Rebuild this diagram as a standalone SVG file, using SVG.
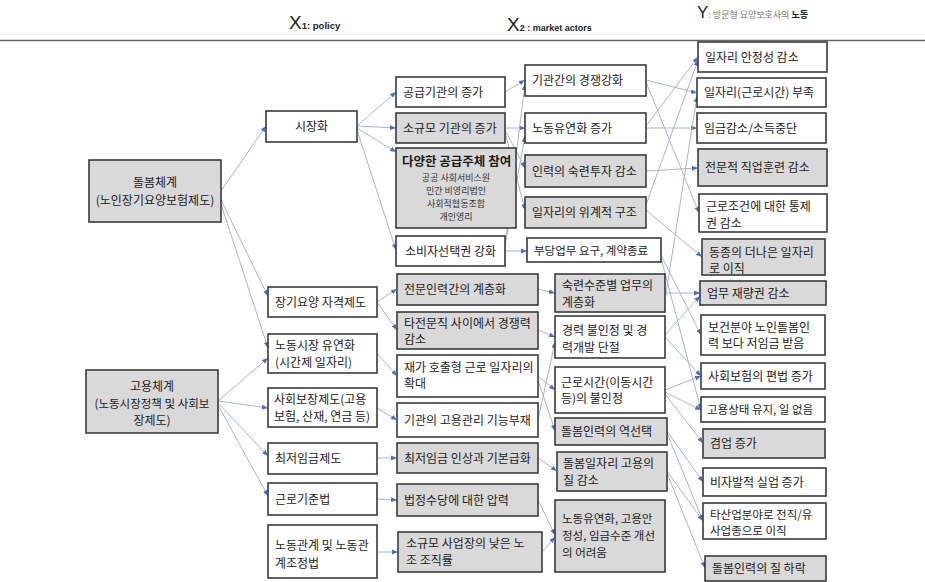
<svg xmlns="http://www.w3.org/2000/svg" width="925" height="582" viewBox="0 0 925 582">
<defs>
<marker id="ah" viewBox="0 0 10 10" refX="10" refY="5" markerWidth="6" markerHeight="6" markerUnits="userSpaceOnUse" orient="auto">
<path d="M0,1 L10,5 L0,9 z" fill="#4a6fc2"/>
</marker>
</defs>
<style>
.b{stroke:#3a3a3a;stroke-width:1.6}
.w{fill:#ffffff}
.g{fill:#d9d9d9}
.t{font-family:"Noto Sans CJK KR","Noto Sans",sans-serif;font-size:12px;fill:#1c1c1c}
.s{font-size:11.5px}
.sub{font-size:9px;fill:#333}
.ttl{font-size:12.5px;font-weight:bold}
.c{text-anchor:middle}
.e{stroke:#aab3d3;stroke-width:1;fill:none;marker-end:url(#ah)}
.h{font-family:"Liberation Sans",Arial,sans-serif;fill:#222}
</style>
<rect x="0" y="0" width="925" height="582" fill="#ffffff"/>
<g id="header">
<line x1="0" y1="34" x2="640" y2="34" stroke="#e6e6e6" stroke-width="1"/>
<line x1="0" y1="40.5" x2="925" y2="40.5" stroke="#666" stroke-width="1.5"/>
<text class="h" x="289" y="29" font-size="19">X<tspan font-size="9.5" font-weight="bold">1: policy</tspan></text>
<text class="h" x="507" y="31" font-size="19">X<tspan font-size="9" font-weight="bold">2 : market actors</tspan></text>
<text class="h" x="697" y="18" font-size="17">Y<tspan font-size="9" fill="#777" font-family="Noto Sans CJK KR,sans-serif">: 방문형 요양보호사의 </tspan><tspan font-size="9" font-weight="bold" font-family="Noto Sans CJK KR,sans-serif">노동</tspan></text>
</g>
<g id="connectors">
<path class="e" d="M221 191 L266 126"/>
<path class="e" d="M221 200 L268 296"/>
<path class="e" d="M221 204 L268 348"/>
<path class="e" d="M218 401 L268 358"/>
<path class="e" d="M218 401 L268 408"/>
<path class="e" d="M218 403 L268 456"/>
<path class="e" d="M218 405 L268 496"/>
<path class="e" d="M357 126 L396 92"/>
<path class="e" d="M357 126 L396 128"/>
<path class="e" d="M357 128 L396 152"/>
<path class="e" d="M357 130 L396 250"/>
<path class="e" d="M377 302 L397 289"/>
<path class="e" d="M377 302 L397 330"/>
<path class="e" d="M377 353 L397 376"/>
<path class="e" d="M377 408 L397 420"/>
<path class="e" d="M377 458 L397 458"/>
<path class="e" d="M377 499 L397 500"/>
<path class="e" d="M377 552 L398 552"/>
<path class="e" d="M505 92 L525 80"/>
<path class="e" d="M505 128 L525 128"/>
<path class="e" d="M505 130 L525 168"/>
<path class="e" d="M505 132 L525 210"/>
<path class="e" d="M505 245 L525 84"/>
<path class="e" d="M505 245 L525 136"/>
<path class="e" d="M505 251 L527 251"/>
<path class="e" d="M538 289 L555 293"/>
<path class="e" d="M538 330 L555 337"/>
<path class="e" d="M538 376 L555 390"/>
<path class="e" d="M538 380 L555 431"/>
<path class="e" d="M538 420 L555 342"/>
<path class="e" d="M538 458 L557 471"/>
<path class="e" d="M538 500 L555 535"/>
<path class="e" d="M542 552 L555 537"/>
<path class="e" d="M646 80 L697 93"/>
<path class="e" d="M646 82 L699 213"/>
<path class="e" d="M646 128 L697 128"/>
<path class="e" d="M646 126 L698 57"/>
<path class="e" d="M646 171 L698 168"/>
<path class="e" d="M646 210 L702 257"/>
<path class="e" d="M646 205 L698 60"/>
<path class="e" d="M665 300 L697 96"/>
<path class="e" d="M665 293 L700 293"/>
<path class="e" d="M665 335 L700 296"/>
<path class="e" d="M665 337 L701 376"/>
<path class="e" d="M661 255 L701 335"/>
<path class="e" d="M661 258 L701 410"/>
<path class="e" d="M665 390 L701 376"/>
<path class="e" d="M665 392 L701 410"/>
<path class="e" d="M665 394 L703 443"/>
<path class="e" d="M667 431 L703 482"/>
<path class="e" d="M667 433 L703 521"/>
<path class="e" d="M667 471 L703 521"/>
<path class="e" d="M667 473 L705 568"/>
</g>
<g id="n-care"><rect class="b g" x="89" y="160" width="132" height="62"/><text class="t c" x="155" y="187">돌봄체계</text><text class="t c" x="155" y="205">(노인장기요양보험제도)</text></g>
<g id="n-employ"><rect class="b g" x="86" y="370" width="132" height="63"/><text class="t c" x="152" y="391">고용체계</text><text class="t c s" x="152" y="408">(노동시장정책 및 사회보</text><text class="t c" x="152" y="425">장제도)</text></g>
<g id="n-market"><rect class="b w" x="266" y="111" width="91" height="31"/><text class="t c" x="311.5" y="131">시장화</text></g>
<g id="n-qual"><rect class="b w" x="268" y="287" width="109" height="30"/><text class="t" x="275" y="306.5">장기요양 자격제도</text></g>
<g id="n-flex"><rect class="b w" x="268" y="334" width="109" height="39"/><text class="t" x="275" y="349.5">노동시장 유연화</text><text class="t" x="275" y="366.5">(시간제 일자리)</text></g>
<g id="n-social"><rect class="b w" x="268" y="388" width="109" height="39"/><text class="t" x="274" y="403.5">사회보장제도(고용</text><text class="t" x="274" y="420.5">보험, 산재, 연금 등)</text></g>
<g id="n-minwage"><rect class="b w" x="268" y="443" width="109" height="31"/><text class="t" x="275" y="463">최저임금제도</text></g>
<g id="n-labstd"><rect class="b w" x="268" y="483" width="109" height="32"/><text class="t" x="275" y="503.5">근로기준법</text></g>
<g id="n-labrel"><rect class="b w" x="268" y="525" width="109" height="53"/><text class="t" x="275" y="549.5">노동관계 및 노동관</text><text class="t" x="275" y="567.5">계조정법</text></g>
<g id="n-supply"><rect class="b w" x="396" y="77" width="109" height="30"/><text class="t" x="403" y="96.5">공급기관의 증가</text></g>
<g id="n-small"><rect class="b g" x="396" y="113" width="109" height="30"/><text class="t" x="403" y="132.5">소규모 기관의 증가</text></g>
<g id="n-diverse"><rect class="b g" x="396" y="148" width="120" height="80"/><text class="t ttl" x="402" y="166">다양한 공급주체 참여</text><text class="t c sub" x="456" y="181">공공 사회서비스원</text><text class="t c sub" x="456" y="194">민간 비영리법인</text><text class="t c sub" x="456" y="207">사회적협동조합</text><text class="t c sub" x="456" y="220">개인영리</text></g>
<g id="n-choice"><rect class="b w" x="396" y="236" width="109" height="30"/><text class="t" x="405" y="255.5">소비자선택권 강화</text></g>
<g id="n-strat"><rect class="b g" x="397" y="274" width="141" height="31"/><text class="t" x="404" y="294">전문인력간의 계층화</text></g>
<g id="n-compet"><rect class="b g" x="397" y="312" width="141" height="37"/><text class="t" x="404" y="327.5">타전문직 사이에서 경쟁력</text><text class="t" x="404" y="344">감소</text></g>
<g id="n-oncall"><rect class="b w" x="397" y="355" width="141" height="42"/><text class="t" x="404" y="371.5">재가 호출형 근로 일자리의</text><text class="t" x="404" y="388">확대</text></g>
<g id="n-mgmt"><rect class="b w" x="397" y="403" width="141" height="34"/><text class="t" x="404" y="424.5">기관의 고용관리 기능부재</text></g>
<g id="n-basepay"><rect class="b g" x="397" y="443" width="141" height="30"/><text class="t" x="404" y="462.5">최저임금 인상과 기본급화</text></g>
<g id="n-allow"><rect class="b g" x="397" y="484" width="141" height="32"/><text class="t" x="404" y="504.5">법정수당에 대한 압력</text></g>
<g id="n-union"><rect class="b g" x="398" y="532" width="144" height="40"/><text class="t" x="406" y="548">소규모 사업장의 낮은 노</text><text class="t" x="406" y="565">조 조직률</text></g>
<g id="n-compete"><rect class="b w" x="525" y="65" width="121" height="31"/><text class="t" x="532" y="85">기관간의 경쟁강화</text></g>
<g id="n-flexinc"><rect class="b w" x="525" y="113" width="121" height="30"/><text class="t" x="532" y="132.5">노동유연화 증가</text></g>
<g id="n-skill"><rect class="b g" x="525" y="155" width="121" height="32"/><text class="t" x="532" y="175.5">인력의 숙련투자 감소</text></g>
<g id="n-hier"><rect class="b g" x="525" y="197" width="121" height="31"/><text class="t" x="532" y="217">일자리의 위계적 구조</text></g>
<g id="n-unfair"><rect class="b w" x="527" y="238" width="134" height="24"/><text class="t s" x="534" y="254.5">부당업무 요구, 계약종료</text></g>
<g id="n-tier"><rect class="b g" x="555" y="274" width="110" height="38"/><text class="t" x="562" y="289.5">숙련수준별 업무의</text><text class="t" x="562" y="306.5">계층화</text></g>
<g id="n-career"><rect class="b w" x="555" y="316" width="110" height="42"/><text class="t" x="562" y="334.5">경력 불인정 및 경</text><text class="t" x="562" y="351.5">력개발 단절</text></g>
<g id="n-hours"><rect class="b w" x="555" y="367" width="110" height="46"/><text class="t" x="561" y="386.5">근로시간(이동시간</text><text class="t" x="561" y="402.5">등)의 불인정</text></g>
<g id="n-adverse"><rect class="b g" x="555" y="418" width="112" height="27"/><text class="t" x="561" y="436">돌봄인력의 역선택</text></g>
<g id="n-quality"><rect class="b g" x="557" y="452" width="110" height="39"/><text class="t" x="563" y="467.5">돌봄일자리 고용의</text><text class="t" x="563" y="484.5">질 감소</text></g>
<g id="n-hard"><rect class="b g" x="555" y="500" width="110" height="72"/><text class="t s" x="562" y="522.5">노동유연화, 고용안</text><text class="t s" x="562" y="539.5">정성, 임금수준 개선</text><text class="t s" x="562" y="556.5">의 어려움</text></g>
<g id="y-stab"><rect class="b w" x="698" y="42" width="129" height="30"/><text class="t" x="705" y="61.5">일자리 안정성 감소</text></g>
<g id="y-short"><rect class="b w" x="697" y="78" width="129" height="29"/><text class="t" x="704" y="97">일자리(근로시간) 부족</text></g>
<g id="y-wage"><rect class="b w" x="697" y="113" width="129" height="30"/><text class="t" x="704" y="132.5">임금감소/소득중단</text></g>
<g id="y-train"><rect class="b g" x="698" y="149" width="129" height="37"/><text class="t" x="705" y="172">전문적 직업훈련 감소</text></g>
<g id="y-control"><rect class="b w" x="699" y="194" width="128" height="38"/><text class="t" x="706" y="210.5">근로조건에 대한 통제</text><text class="t" x="706" y="227.5">권 감소</text></g>
<g id="y-move"><rect class="b g" x="702" y="239" width="123" height="36"/><text class="t" x="709" y="256.5">동종의 더나은 일자리</text><text class="t" x="709" y="272.5">로 이직</text></g>
<g id="y-discr"><rect class="b g" x="700" y="281" width="126" height="24"/><text class="t" x="707" y="297.5">업무 재량권 감소</text></g>
<g id="y-lowpay"><rect class="b w" x="701" y="315" width="124" height="40"/><text class="t" x="708" y="331.5">보건분야 노인돌봄인</text><text class="t" x="708" y="347.5">력 보다 저임금 받음</text></g>
<g id="y-insur"><rect class="b w" x="701" y="363" width="124" height="26"/><text class="t" x="708" y="380.5">사회보험의 편법 증가</text></g>
<g id="y-nowork"><rect class="b w" x="701" y="397" width="124" height="25"/><text class="t s" x="707" y="414">고용상태 유지, 일 없음</text></g>
<g id="y-multi"><rect class="b g" x="703" y="429" width="122" height="29"/><text class="t" x="710" y="448">겸업 증가</text></g>
<g id="y-unemp"><rect class="b w" x="703" y="468" width="123" height="28"/><text class="t" x="710" y="486.5">비자발적 실업 증가</text></g>
<g id="y-other"><rect class="b w" x="703" y="503" width="123" height="36"/><text class="t s" x="710" y="519">타산업분야로 전직/유</text><text class="t s" x="710" y="535">사업종으로 이직</text></g>
<g id="y-decline"><rect class="b g" x="705" y="556" width="121" height="25"/><text class="t" x="712" y="573">돌봄인력의 질 하락</text></g>
</svg>
